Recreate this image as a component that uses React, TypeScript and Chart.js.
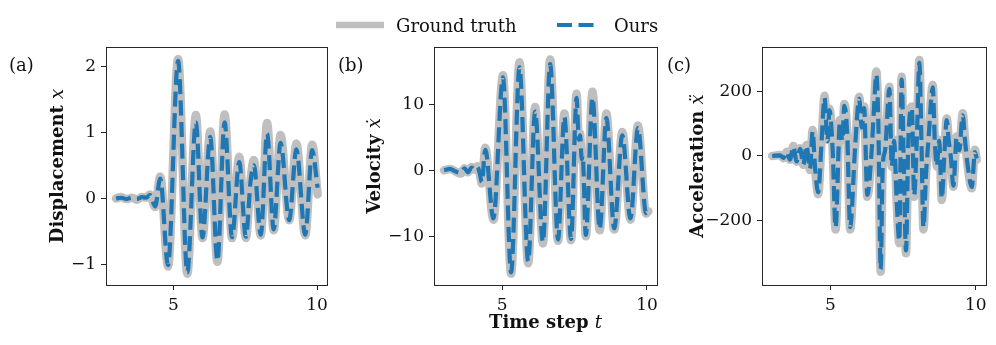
import React, { useEffect, useRef } from "react";
import { Chart, registerables } from "chart.js";

Chart.register(...registerables);

// ---------------- data ----------------
const SERIES_LABELS = ["Ground truth", "Ours"];
const PANEL_LABELS = ["(a)", "(b)", "(c)"];
const X_TICKS = [5, 10];
const X_MIN = 2.65;
const X_MAX = 10.35;

// (a) displacement
const T_DISP = [3.0, 3.18, 3.36, 3.55, 3.72, 3.9, 4.05, 4.18, 4.36, 4.54, 4.81, 5.16, 5.48, 5.78, 6.01, 6.28, 6.53, 6.78, 7.04, 7.29, 7.52, 7.69, 7.8, 8.04, 8.26, 8.49, 8.73, 9.03, 9.28, 9.59, 9.83, 10.02];
const DISP_TRUE = [0.0, 0.02, -0.01, 0.01, -0.02, 0.02, 0.01, 0.06, -0.13, 0.33, -1.03, 2.11, -1.14, 1.26, -0.6, 1.01, -0.96, 1.27, -0.6, 0.63, -0.6, 0.3, 0.58, -0.56, 1.14, -0.48, 0.96, -0.33, 0.83, -0.56, 0.81, 0.06];
const DISP_OURS = [0.0, 0.01, -0.01, 0.01, -0.01, 0.02, 0.01, 0.05, -0.12, 0.3, -1.01, 2.08, -1.12, 1.15, -0.59, 0.93, -0.94, 1.15, -0.59, 0.55, -0.58, 0.28, 0.5, -0.55, 0.98, -0.47, 0.84, -0.33, 0.74, -0.55, 0.73, 0.16];
const DISP_TICKS = [-1, 0, 1, 2];
const DISP_MIN = -1.31;
const DISP_MAX = 2.29;

// (b) velocity
const T_VEL = [3.0, 3.2, 3.4, 3.58, 3.7, 3.82, 3.95, 4.05, 4.15, 4.22, 4.3, 4.42, 4.7, 5.03, 5.31, 5.6, 5.9, 6.14, 6.41, 6.66, 6.93, 7.15, 7.38, 7.57, 7.65, 7.69, 7.75, 7.78, 7.89, 8.12, 8.37, 8.6, 8.87, 9.15, 9.43, 9.69, 9.97, 10.05];
const VEL_TRUE = [0.0, 0.2, -0.2, -0.5, 0.3, -0.3, 0.5, 0.1, 0.6, -0.3, -2.0, 3.4, -7.5, 14.4, -15.7, 16.4, -14.1, 9.6, -11.1, 16.8, -10.7, 8.6, -10.6, 11.6, 4.8, 5.6, 1.5, 2.4, -10.0, 11.9, -9.1, 8.6, -9.0, 5.8, -7.5, 6.8, -6.6, -6.2];
const VEL_OURS = [0.0, 0.2, -0.2, -0.4, 0.3, -0.3, 0.4, 0.1, 0.5, -0.3, -1.8, 3.1, -7.3, 14.1, -15.5, 15.6, -13.8, 8.9, -10.9, 16.1, -10.5, 8.1, -10.4, 11.0, 4.6, 5.3, 1.7, 2.3, -9.8, 11.0, -8.9, 7.9, -8.8, 5.3, -7.3, 6.4, -6.5, -6.1];
const VEL_TICKS = [-10, 0, 10];
const VEL_MIN = -17.4;
const VEL_MAX = 18.7;

// (c) acceleration
const T_ACC = [3.0, 3.27, 3.39, 3.5, 3.61, 3.73, 3.84, 3.96, 4.07, 4.18, 4.3, 4.39, 4.47, 4.58, 4.7, 4.8, 4.9, 4.97, 5.08, 5.18, 5.33, 5.41, 5.48, 5.58, 5.68, 5.85, 5.99, 6.08, 6.16, 6.27, 6.42, 6.5, 6.58, 6.65, 6.73, 6.8, 6.88, 7.03, 7.11, 7.19, 7.28, 7.37, 7.45, 7.53, 7.6, 7.68, 7.8, 7.88, 7.97, 8.06, 8.13, 8.2, 8.29, 8.37, 8.52, 8.59, 8.66, 8.74, 8.83, 8.91, 9.0, 9.07, 9.14, 9.23, 9.34, 9.43, 9.55, 9.63, 9.71, 9.86, 9.97, 10.03];
const ACC_TRUE = [0, 3, -7, 13, -12, 31, -18, 24, -28, 34, -43, 80, -33, -118, 50, 186, 50, 147, 19, -227, 111, 50, 161, 70, -227, 29, 183, 91, 153, -126, 19, 153, 261, 101, -358, -33, 19, 214, -33, 50, -146, -270, 245, -54, -301, 50, 153, -126, 50, 297, 50, -227, -54, 50, 220, 50, -33, 50, -136, -12, 116, 50, -2, -95, 60, 19, 132, 50, -23, -100, 19, -12];
const ACC_OURS = [0, 2, -6, 12, -11, 29, -17, 22, -27, 32, -40, 76, -31, -112, 47, 180, 46, 142, 17, -221, 106, 47, 155, 66, -220, 27, 177, 88, 148, -120, 17, 148, 252, 97, -350, -31, 17, 207, -31, 47, -140, -262, 236, -52, -292, 47, 148, -121, 47, 288, 47, -220, -52, 47, 212, 47, -31, 47, -131, -11, 111, 47, -2, -92, 57, 18, 126, 47, -22, -96, 12, -8];
const ACC_TICKS = [-200, 0, 200];
const ACC_MIN = -399;
const ACC_MAX = 337;

// ---------------- styling / layout ----------------
const FONT = '"DejaVu Serif", "Liberation Serif", serif';
const TEXT = "#111111";
const FRAME = "#262626";
const GT_COLOR = "#bfbfbf";
const OURS_COLOR = "#1f77b4";
const GT_WIDTH = 8.5;
const OURS_WIDTH = 4.2;
const OURS_DASH = [15, 6.5];
const H = 345;
const PLOT_TOP = 47;
const PLOT_BOTTOM = 285;

type Run = { text: string; font: string };
type Panel = {
  key: string;
  left: number;
  width: number;
  plotLeft: number;
  plotRight: number;
  t: number[];
  truth: number[];
  ours: number[];
  yMin: number;
  yMax: number;
  yTicks: number[];
  yTitle: Run[];
  yTitleBase: number;
  label: string;
  labelX: number;
  xTitle?: Run[];
  legend?: boolean;
};

const bold = `bold 18px ${FONT}`;
const ital = `italic 18px ${FONT}`;

const PANELS: Panel[] = [
  {
    key: "a", left: 0, width: 333, plotLeft: 106, plotRight: 330,
    t: T_DISP, truth: DISP_TRUE, ours: DISP_OURS,
    yMin: DISP_MIN, yMax: DISP_MAX, yTicks: DISP_TICKS,
    yTitle: [{ text: "Displacement ", font: bold }, { text: "x", font: ital }],
    yTitleBase: 63, label: PANEL_LABELS[0], labelX: 9,
  },
  {
    key: "b", left: 333, width: 330, plotLeft: 101, plotRight: 325,
    t: T_VEL, truth: VEL_TRUE, ours: VEL_OURS,
    yMin: VEL_MIN, yMax: VEL_MAX, yTicks: VEL_TICKS,
    yTitle: [{ text: "Velocity ", font: bold }, { text: "\u1E8B", font: ital }],
    yTitleBase: 47, label: PANEL_LABELS[1], labelX: 5,
    xTitle: [{ text: "Time step ", font: bold }, { text: "t", font: ital }],
    legend: true,
  },
  {
    key: "c", left: 663, width: 333, plotLeft: 99, plotRight: 323,
    t: T_ACC, truth: ACC_TRUE, ours: ACC_OURS,
    yMin: ACC_MIN, yMax: ACC_MAX, yTicks: ACC_TICKS,
    yTitle: [{ text: "Acceleration ", font: bold }, { text: "\u1E8D", font: ital }],
    yTitleBase: 39.5, label: PANEL_LABELS[2], labelX: 4,
  },
];

function drawRuns(ctx: CanvasRenderingContext2D, runs: Run[], x: number, y: number, rotated: boolean) {
  let total = 0;
  const widths: number[] = [];
  for (const r of runs) {
    ctx.font = r.font;
    const w = ctx.measureText(r.text).width;
    widths.push(w);
    total += w;
  }
  ctx.save();
  ctx.textAlign = "left";
  ctx.textBaseline = "alphabetic";
  ctx.translate(x, y);
  if (rotated) ctx.rotate(-Math.PI / 2);
  let cx = -total / 2;
  runs.forEach((r, i) => {
    ctx.font = r.font;
    ctx.fillText(r.text, cx, 0);
    cx += widths[i];
  });
  ctx.restore();
}

const align = (p: number) => Math.round(p - 0.5) + 0.5;

function makePlugin(p: Panel) {
  return {
    id: "panelDecor" + p.key,
    afterDraw(chart: any) {
      const ctx: CanvasRenderingContext2D = chart.ctx;
      const a = chart.chartArea;
      ctx.save();
      ctx.strokeStyle = FRAME;
      ctx.lineWidth = 1;
      ctx.setLineDash([]);
      const l = align(a.left), r = align(a.right), t = align(a.top), b = align(a.bottom);
      ctx.strokeRect(l, t, r - l, b - t);
      ctx.fillStyle = TEXT;
      ctx.font = `18px ${FONT}`;
      ctx.textAlign = "left";
      ctx.textBaseline = "alphabetic";
      ctx.fillText(p.label, p.labelX, 70.5);
      drawRuns(ctx, p.yTitle, p.yTitleBase, (a.top + a.bottom) / 2, true);
      if (p.xTitle) drawRuns(ctx, p.xTitle, (a.left + a.right) / 2, 328, false);
      if (p.legend) {
        const ds = chart.data.datasets;
        const items = [
          { d: ds[0], x0: 3, len: 48, lw: 6.5, dash: [] as number[], tx: 63 },
          { d: ds[1], x0: 224, len: 40, lw: 4.2, dash: OURS_DASH, tx: 281 },
        ];
        for (const it of items) {
          ctx.save();
          ctx.strokeStyle = it.d.borderColor;
          ctx.lineWidth = it.lw;
          ctx.lineCap = "butt";
          ctx.setLineDash(it.dash);
          ctx.beginPath();
          ctx.moveTo(it.x0, 25);
          ctx.lineTo(it.x0 + it.len, 25);
          ctx.stroke();
          ctx.restore();
          ctx.fillStyle = TEXT;
          ctx.font = `18px ${FONT}`;
          ctx.fillText(it.d.label, it.tx, 31.5);
        }
      }
      ctx.restore();
    },
  };
}

const fmt = (v: number) => (v < 0 ? "\u2212" + Math.abs(v) : String(v));

function makeChart(canvas: HTMLCanvasElement, p: Panel) {
  const pts = (ys: number[]) => p.t.map((t, i) => ({ x: t, y: ys[i] }));
  const tickFont = { family: FONT, size: 17 };
  const grid = {
    drawOnChartArea: false,
    drawTicks: true,
    tickLength: 5,
    tickWidth: 1,
    tickColor: FRAME,
  };
  return new Chart(canvas, {
    type: "line",
    data: {
      datasets: [
        {
          label: SERIES_LABELS[0],
          data: pts(p.truth),
          borderColor: GT_COLOR,
          borderWidth: GT_WIDTH,
          borderCapStyle: "round",
          borderJoinStyle: "round",
          pointRadius: 0,
          cubicInterpolationMode: "monotone",
          fill: false,
          order: 2,
        },
        {
          label: SERIES_LABELS[1],
          data: pts(p.ours),
          borderColor: OURS_COLOR,
          borderWidth: OURS_WIDTH,
          borderDash: OURS_DASH,
          borderCapStyle: "butt",
          borderJoinStyle: "round",
          pointRadius: 0,
          cubicInterpolationMode: "monotone",
          fill: false,
          order: 1,
        },
      ],
    } as any,
    options: {
      animation: false,
      responsive: false,
      maintainAspectRatio: false,
      devicePixelRatio: 1,
      events: [],
      layout: { padding: { top: PLOT_TOP, right: p.width - p.plotRight, bottom: 0, left: 0 } },
      plugins: { legend: { display: false }, tooltip: { enabled: false }, title: { display: false } },
      scales: {
        x: {
          type: "linear",
          min: X_MIN,
          max: X_MAX,
          afterBuildTicks: (s: any) => { s.ticks = X_TICKS.map((v) => ({ value: v })); },
          afterFit: (s: any) => { s.height = H - PLOT_BOTTOM; },
          grid,
          border: { display: false },
          ticks: { font: tickFont, color: TEXT, padding: 5, maxRotation: 0, autoSkip: false, callback: (v: any) => fmt(Number(v)) },
        },
        y: {
          type: "linear",
          min: p.yMin,
          max: p.yMax,
          afterBuildTicks: (s: any) => { s.ticks = p.yTicks.map((v) => ({ value: v })); },
          afterFit: (s: any) => { s.width = p.plotLeft; },
          grid,
          border: { display: false },
          ticks: { font: tickFont, color: TEXT, padding: 5, autoSkip: false, callback: (v: any) => fmt(Number(v)) },
        },
      },
    } as any,
    plugins: [makePlugin(p)],
  });
}

function PanelCanvas({ p }: { p: Panel }) {
  const ref = useRef<HTMLCanvasElement | null>(null);
  useEffect(() => {
    if (!ref.current) return;
    const c = makeChart(ref.current, p);
    return () => c.destroy();
  }, [p]);
  return (
    <canvas
      ref={ref}
      width={p.width}
      height={H}
      style={{ position: "absolute", left: p.left, top: 0, width: p.width, height: H }}
    />
  );
}

export default function App() {
  return (
    <div style={{ position: "absolute", left: 0, top: 0, width: 996, height: H, background: "#ffffff", overflow: "hidden" }}>
      {PANELS.map((p) => (
        <PanelCanvas key={p.key} p={p} />
      ))}
    </div>
  );
}
